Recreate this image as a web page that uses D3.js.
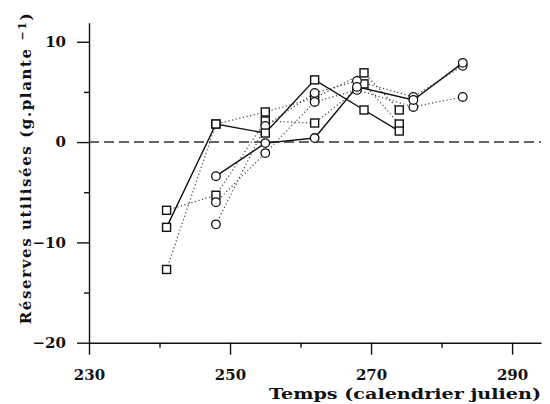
<!DOCTYPE html>
<html>
<head>
<meta charset="utf-8">
<script src="https://cdn.jsdelivr.net/npm/d3@7"></script>
<style>
  body { margin: 0; background: #fff; }
  svg { display: block; }
</style>
</head>
<body>
<div id="chart"></div>
<script>
// tick values
const majorX = [230, 250, 270, 290];
const minorX = [240, 260, 280];
const majorY = [10, 0, -10, -20];
const minorY = [5, -5, -15];

// sampling days (julian calendar)
const squareDays = [241, 248, 255, 262, 269, 274];
const circleDays = [248, 255, 262, 268, 276, 283];

// reserves used (g.plante-1), one array per series
const sqSolid = [-8.5, 1.8, 0.9, 6.2, 3.2, 1.1];
const sqDotA  = [-12.7, 1.8, 3.0, 4.4, 6.9, 3.2];
const sqDotB  = [-6.8, -5.3, 2.1, 1.9, 5.8, 1.8];
const ciSolid = [-3.4, -0.1, 0.4, 5.5, 4.2, 7.9];
const ciDotA  = [-6.0, -1.1, 4.0, 5.2, 3.5, 4.5];
const ciDotB  = [-8.2, 1.6, 4.9, 6.1, 4.5, 7.6];

const series = [
  {days: squareDays, vals: sqDotA,  marker: "square", dotted: true},
  {days: squareDays, vals: sqDotB,  marker: "square", dotted: true},
  {days: circleDays, vals: ciDotA,  marker: "circle", dotted: true},
  {days: circleDays, vals: ciDotB,  marker: "circle", dotted: true},
  {days: squareDays, vals: sqSolid, marker: "square", dotted: false},
  {days: circleDays, vals: ciSolid, marker: "circle", dotted: false}
];

const width = 550, height = 404;

const svg = d3.select("#chart").append("svg")
  .attr("width", width)
  .attr("height", height);

const x = d3.scaleLinear().domain([230, 294.1]).range([89, 541]);
const y = d3.scaleLinear().domain([-20, 11.9]).range([342.7, 22.7]);

const fontFam = "'DejaVu Serif', 'Liberation Serif', serif";

// x axis (major with labels, minor short ticks)
svg.append("g")
  .attr("transform", `translate(0,${y(-20)})`)
  .call(d3.axisBottom(x).tickValues(majorX).tickSize(12).tickSizeOuter(0).tickPadding(15).tickFormat(d3.format("d")));
const xMinor = svg.append("g")
  .attr("transform", `translate(0,${y(-20)})`)
  .call(d3.axisBottom(x).tickValues(minorX).tickSize(5).tickFormat(""));
xMinor.select(".domain").remove();

// y axis
svg.append("g")
  .attr("transform", `translate(${x(230)},0)`)
  .call(d3.axisLeft(y).tickValues(majorY).tickSize(12).tickSizeOuter(0).tickPadding(11)
    .tickFormat(d => d < 0 ? "\u2212" + Math.abs(d) : d));
const yMinor = svg.append("g")
  .attr("transform", `translate(${x(230)},0)`)
  .call(d3.axisLeft(y).tickValues(minorY).tickSize(5).tickFormat(""));
yMinor.select(".domain").remove();

svg.selectAll(".tick line, .domain").attr("stroke", "#111").attr("stroke-width", 1.4);
svg.selectAll(".tick text")
  .attr("fill", "#111")
  .style("font-family", fontFam)
  .style("font-weight", "bold")
  .style("font-size", "15px");

// zero reference line
svg.append("line")
  .attr("x1", x(230)).attr("x2", x(294.1))
  .attr("y1", y(0)).attr("y2", y(0))
  .attr("stroke", "#333")
  .attr("stroke-width", 1.5)
  .attr("stroke-dasharray", "10,5");

// lines
const line = d3.line().x(d => x(d[0])).y(d => y(d[1]));
series.forEach(s => {
  const pts = s.days.map((d, i) => [d, s.vals[i]]);
  svg.append("path")
    .datum(pts)
    .attr("d", line)
    .attr("fill", "none")
    .attr("stroke", s.dotted ? "#444" : "#111")
    .attr("stroke-width", s.dotted ? 1.2 : 1.4)
    .attr("stroke-dasharray", s.dotted ? "1.2,2.5" : null);
});

// markers
series.forEach(s => {
  const pts = s.days.map((d, i) => [d, s.vals[i]]);
  if (s.marker === "square") {
    svg.selectAll(null).data(pts).enter().append("rect")
      .attr("x", d => x(d[0]) - 4)
      .attr("y", d => y(d[1]) - 4)
      .attr("width", 8).attr("height", 8)
      .attr("fill", "#fff")
      .attr("stroke", "#111")
      .attr("stroke-width", 1.4);
  } else {
    svg.selectAll(null).data(pts).enter().append("circle")
      .attr("cx", d => x(d[0]))
      .attr("cy", d => y(d[1]))
      .attr("r", 4.3)
      .attr("fill", "#fff")
      .attr("stroke", "#111")
      .attr("stroke-width", 1.3);
  }
});

// axis titles
svg.append("text")
  .attr("x", 541).attr("y", 399)
  .attr("text-anchor", "end")
  .style("font-family", fontFam)
  .style("font-weight", "bold")
  .style("font-size", "15px")
  .attr("fill", "#111")
  .attr("textLength", 272)
  .attr("lengthAdjust", "spacingAndGlyphs")
  .text("Temps (calendrier julien)");

const yLab = svg.append("text")
  .attr("transform", "translate(31,168) rotate(-90)")
  .attr("text-anchor", "middle")
  .style("font-family", fontFam)
  .style("font-weight", "bold")
  .style("font-size", "15px")
  .style("letter-spacing", "1.6px")
  .attr("fill", "#111");
yLab.append("tspan").text("Réserves utilisées (g.plante ");
yLab.append("tspan").attr("dy", -5).style("font-size", "11px").text("\u22121");
yLab.append("tspan").attr("dy", 5).text(")");
</script>
</body>
</html>
